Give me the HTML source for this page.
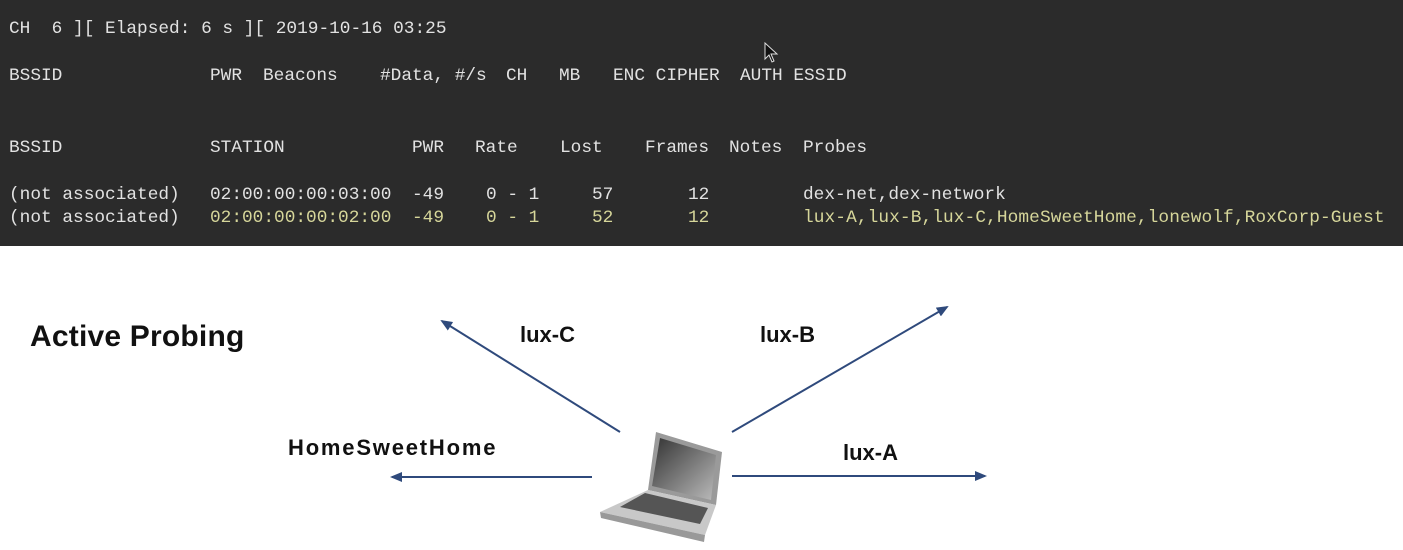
<!DOCTYPE html>
<html><head><meta charset="utf-8"><style>
body{margin:0;width:1403px;height:550px;background:#fff;position:relative;overflow:hidden;font-family:"Liberation Sans",sans-serif}
#term{position:absolute;left:0;top:0;width:1403px;height:246px;background:#2b2b2b}
#term span{position:absolute;font-family:"Liberation Mono",monospace;font-size:17.8px;color:#e2e2e2;white-space:pre;line-height:20px}
#term span.y{color:#d6d69a}
.lbl{position:absolute;font-weight:bold;font-size:22px;color:#111;white-space:nowrap}
</style></head><body>
<div id="term">
<span style="left:9px;top:19px">CH  6 ][ Elapsed: 6 s ][ 2019-10-16 03:25</span>
<span style="left:9px;top:66px">BSSID</span><span style="left:210px;top:66px">PWR</span><span style="left:263px;top:66px">Beacons</span><span style="left:380px;top:66px">#Data, #/s</span><span style="left:506px;top:66px">CH</span><span style="left:559px;top:66px">MB</span><span style="left:613px;top:66px">ENC CIPHER</span><span style="left:740px;top:66px">AUTH ESSID</span>
<span style="left:9px;top:138px">BSSID</span><span style="left:210px;top:138px">STATION</span><span style="left:412px;top:138px">PWR</span><span style="left:475px;top:138px">Rate</span><span style="left:560px;top:138px">Lost</span><span style="left:645px;top:138px">Frames</span><span style="left:729px;top:138px">Notes</span><span style="left:803px;top:138px">Probes</span>
<span style="left:9px;top:185px">(not associated)</span><span style="left:210px;top:185px">02:00:00:00:03:00</span><span style="left:412px;top:185px">-49</span><span style="left:486px;top:185px">0 - 1</span><span style="left:592px;top:185px">57</span><span style="left:688px;top:185px">12</span><span style="left:803px;top:185px">dex-net,dex-network</span>
<span style="left:9px;top:208px">(not associated)</span><span class="y" style="left:210px;top:208px">02:00:00:00:02:00</span><span class="y" style="left:412px;top:208px">-49</span><span class="y" style="left:486px;top:208px">0 - 1</span><span class="y" style="left:592px;top:208px">52</span><span class="y" style="left:688px;top:208px">12</span><span class="y" style="left:803px;top:208px;letter-spacing:0.1px">lux-A,lux-B,lux-C,HomeSweetHome,lonewolf,RoxCorp-Guest</span>
<svg style="position:absolute;left:764px;top:42px" width="16" height="22"><path d="M1 1 L1 17 L5 13 L8 20 L10 19 L7 12 L13 12 Z" fill="#111" stroke="#ddd" stroke-width="1"/></svg>
</div>
<div style="position:absolute;left:30px;top:320px;font-weight:bold;font-size:30px;color:#111;letter-spacing:0.2px">Active Probing</div>
<div class="lbl" style="left:520px;top:322px">lux-C</div>
<div class="lbl" style="left:760px;top:322px">lux-B</div>
<div class="lbl" style="left:288px;top:435px;letter-spacing:1.8px">HomeSweetHome</div>
<div class="lbl" style="left:843px;top:440px">lux-A</div>
<svg style="position:absolute;left:0;top:0" width="1403" height="550">
<defs><marker id="a" markerWidth="12" markerHeight="10" refX="10" refY="5" orient="auto" markerUnits="userSpaceOnUse"><path d="M0 0 L12 5 L0 10 Z" fill="#2f4a7c"/></marker></defs>
<g stroke="#2f4a7c" stroke-width="2" fill="none" marker-end="url(#a)">
<line x1="620" y1="432" x2="442" y2="321"/>
<line x1="732" y1="432" x2="947" y2="307"/>
<line x1="592" y1="477" x2="392" y2="477"/>
<line x1="732" y1="476" x2="985" y2="476"/>
</g>
<defs><linearGradient id="s" x1="0" y1="0" x2="1" y2="1"><stop offset="0" stop-color="#333"/><stop offset="1" stop-color="#bbb"/></linearGradient></defs>
<path d="M656 432 L722 452 L716 505 L648 490 Z" fill="#9a9a9a"/>
<path d="M660 438 L716 455 L711 500 L652 486 Z" fill="url(#s)"/>
<path d="M648 490 L716 505 L705 535 L600 512 Z" fill="#c8c8c8"/>
<path d="M645 493 L708 508 L700 524 L620 507 Z" fill="#555"/>
<path d="M600 512 L705 535 L704 542 L601 518 Z" fill="#999"/>
</svg>
</body></html>
